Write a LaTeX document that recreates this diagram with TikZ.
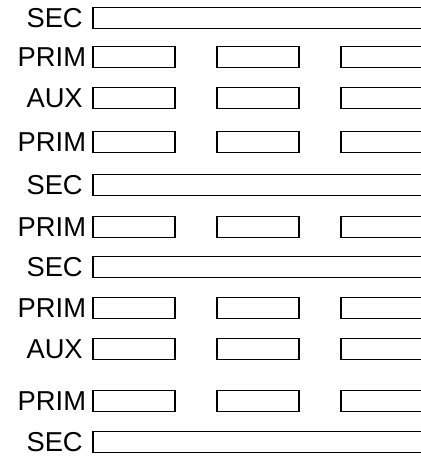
\documentclass[tikz,border=0pt]{standalone}
\usepackage{fontspec}
\setmainfont{Liberation Sans}
\usetikzlibrary{positioning}

\begin{document}
\begin{tikzpicture}[
  x=0.75pt, y=-0.75pt,
  slot/.style={rectangle, draw=black, line width=0.8pt, minimum width=61.5pt,
               minimum height=15.75pt, inner sep=0pt, outer sep=0pt},
  bus/.style={slot, minimum width=252pt},
  tag/.style={font=\fontsize{20.5}{24}\selectfont, inner sep=0pt},
]
\useasboundingbox (0,0) rectangle (421,458);
% full-width SEC rows
\foreach \y [count=\i] in {18,185,267,442} {
  \node[bus, anchor=west] (sec\i) at (93,\y) {};
  \node[tag, left=7.5pt of sec\i] (seclabel\i) {SEC};
}
% rows of three slots
\foreach \y/\t/\gap [count=\i] in {57/PRIM/5, 98/AUX/7.5, 142/PRIM/5, 227/PRIM/5,
                                  308/PRIM/5, 349/AUX/7.5, 401/PRIM/5} {
  \node[slot, anchor=west] (row\i-a) at (93,\y) {};
  \node[slot, right=31.5pt of row\i-a] (row\i-b) {};
  \node[slot, right=31.5pt of row\i-b] (row\i-c) {};
  \node[tag, left=\gap pt of row\i-a] (rowlabel\i) {\t};
}
\end{tikzpicture}
\end{document}
